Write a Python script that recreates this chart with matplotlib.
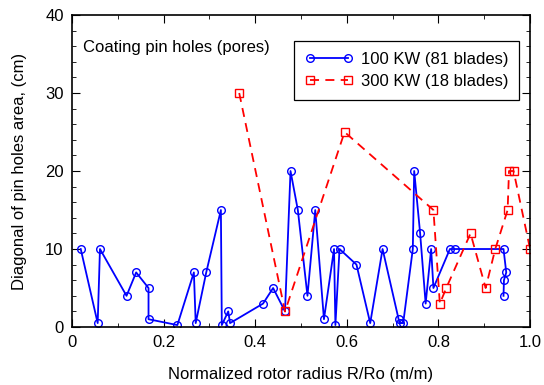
import numpy as np
import matplotlib.pyplot as plt
from matplotlib.ticker import MultipleLocator

plt.rcParams['font.family'] = ['Liberation Sans', 'DejaVu Sans']

# 100 KW (81 blades)
r_100 = [0.019, 0.056, 0.061, 0.119, 0.140, 0.167, 0.167, 0.230, 0.266, 0.270,
         0.293, 0.325, 0.327, 0.341, 0.345, 0.417, 0.439, 0.465, 0.477, 0.493,
         0.514, 0.531, 0.550, 0.572, 0.575, 0.584, 0.621, 0.651, 0.678, 0.713,
         0.715, 0.723, 0.744, 0.747, 0.760, 0.772, 0.784, 0.789, 0.825, 0.836,
         0.942, 0.948, 0.943, 0.942]
d_100 = [10, 0.5, 10, 4, 7, 5, 1, 0.25, 7, 0.5,
         7, 15, 0.25, 2, 0.5, 3, 5, 2, 20, 15,
         4, 15, 1, 10, 0.25, 10, 8, 0.5, 10, 1,
         0.5, 0.5, 10, 20, 12, 3, 10, 5, 10, 10,
         10, 7, 6, 4]

# 300 KW (18 blades)
r_300 = [0.365, 0.465, 0.595, 0.789, 0.803, 0.817, 0.870, 0.903, 0.924, 0.951,
         0.954, 0.964, 1.0]
d_300 = [30, 2, 25, 15, 3, 5, 12, 5, 10, 15, 20, 20, 10]

fig = plt.figure(figsize=(5.44, 3.85), dpi=100)
ax = fig.add_axes([0.1324, 0.1506, 0.842, 0.8104])

ax.plot(r_100, d_100, color='#0000ff', linewidth=1.3, marker='o', markersize=5.5,
        markerfacecolor='none', markeredgewidth=1.0, label='100 KW (81 blades)')
ax.plot(r_300, d_300, color='#ff0000', linewidth=1.3, linestyle=(0, (5, 3.5)),
        marker='s', markersize=5.5, markerfacecolor='none', markeredgewidth=1.0,
        label='300 KW (18 blades)')

ax.set_xlim(0, 1.0)
ax.set_ylim(0, 40)
ax.xaxis.set_major_locator(MultipleLocator(0.2))
ax.xaxis.set_minor_locator(MultipleLocator(0.1))
ax.yaxis.set_major_locator(MultipleLocator(10))
ax.yaxis.set_minor_locator(MultipleLocator(2))
ax.xaxis.set_major_formatter(plt.FuncFormatter(lambda v, p: '0' if v == 0 else f'{v:.1f}'))

# ticks hacia dentro en los cuatro lados
ax.tick_params(which='both', direction='in', top=True, right=True, labelsize=12)
ax.tick_params(which='major', length=6, width=0.8, pad=6)
ax.tick_params(which='minor', length=3, width=0.6)
for s in ax.spines.values():
    s.set_linewidth(1.2)

ax.set_xlabel('Normalized rotor radius R/Ro (m/m)', fontsize=12, labelpad=12)
ax.set_ylabel('Diagonal of pin holes area, (cm)', fontsize=12, labelpad=13)

ax.text(0.025, 0.895, 'Coating pin holes (pores)', transform=ax.transAxes,
        fontsize=12, va='center', ha='left')

leg = ax.legend(loc='upper right', bbox_to_anchor=(0.976, 0.917), borderaxespad=0,
                numpoints=2, fontsize=12, fancybox=False, edgecolor='black',
                framealpha=1, handlelength=2.9, handletextpad=0.45,
                borderpad=0.65, labelspacing=0.45)
leg.get_frame().set_linewidth(0.9)

fig.savefig('out.png', dpi=100)
